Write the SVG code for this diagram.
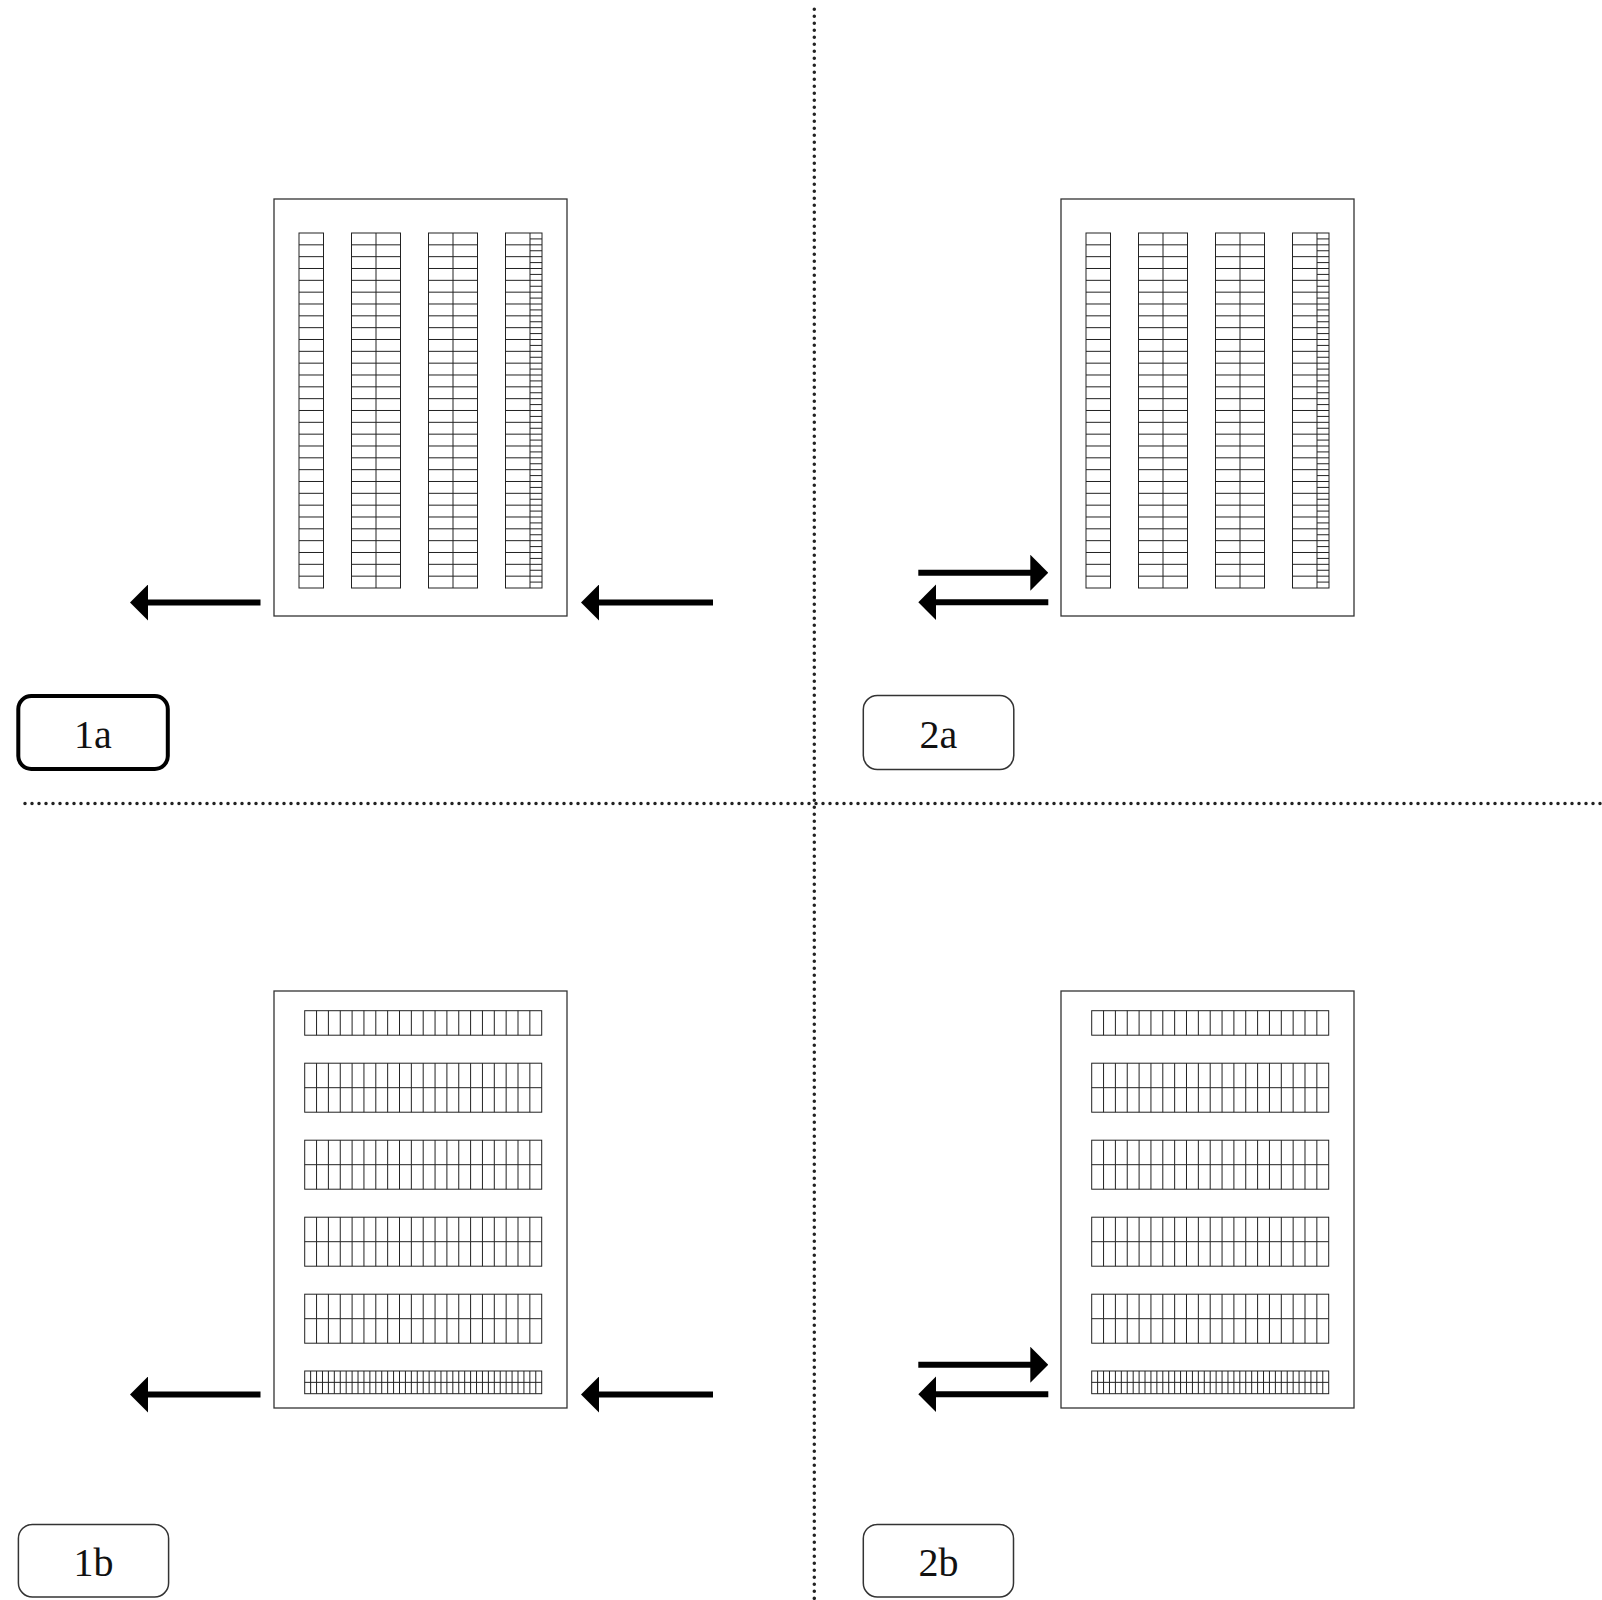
<svg xmlns="http://www.w3.org/2000/svg" xmlns:xlink="http://www.w3.org/1999/xlink" width="1602" height="1600" viewBox="0 0 1602 1600">
<style>
.frame{fill:#fff;stroke:#333;stroke-width:1.3}
.blk{fill:none;stroke:#222;stroke-width:1}
.ln{fill:none;stroke:#222;stroke-width:1}
.arrow{stroke:#000;stroke-width:6;fill:none}
.dots{stroke:#222;stroke-width:3.5;stroke-linecap:round;stroke-dasharray:0 7;fill:none}
.lbl{fill:#fff;stroke:#333;stroke-width:1.5}
.lbl.sel{stroke:#000;stroke-width:4}
.txt{font-family:"Liberation Serif","DejaVu Serif",serif;font-size:40px;fill:#111;text-anchor:middle}
</style>
<defs>
<marker id="head" markerUnits="userSpaceOnUse" markerWidth="18" markerHeight="36" viewBox="0 0 18 36" refX="2" refY="18" orient="auto">
<path d="M0,0L18,18L0,36Z" fill="#000"/>
</marker>
<path id="h24" class="ln" d="M0,11.833h24.5m-24.5,11.833h24.5m-24.5,11.833h24.5m-24.5,11.833h24.5m-24.5,11.833h24.5m-24.5,11.833h24.5m-24.5,11.833h24.5m-24.5,11.833h24.5m-24.5,11.833h24.5m-24.5,11.833h24.5m-24.5,11.833h24.5m-24.5,11.833h24.5m-24.5,11.833h24.5m-24.5,11.833h24.5m-24.5,11.833h24.5m-24.5,11.833h24.5m-24.5,11.833h24.5m-24.5,11.833h24.5m-24.5,11.833h24.5m-24.5,11.833h24.5m-24.5,11.833h24.5m-24.5,11.833h24.5m-24.5,11.833h24.5m-24.5,11.833h24.5m-24.5,11.833h24.5m-24.5,11.833h24.5m-24.5,11.833h24.5m-24.5,11.833h24.5m-24.5,11.833h24.5"/>
<path id="h12" class="ln" d="M0,5.9167h12m-12,5.9167h12m-12,5.9167h12m-12,5.9167h12m-12,5.9167h12m-12,5.9167h12m-12,5.9167h12m-12,5.9167h12m-12,5.9167h12m-12,5.9167h12m-12,5.9167h12m-12,5.9167h12m-12,5.9167h12m-12,5.9167h12m-12,5.9167h12m-12,5.9167h12m-12,5.9167h12m-12,5.9167h12m-12,5.9167h12m-12,5.9167h12m-12,5.9167h12m-12,5.9167h12m-12,5.9167h12m-12,5.9167h12m-12,5.9167h12m-12,5.9167h12m-12,5.9167h12m-12,5.9167h12m-12,5.9167h12m-12,5.9167h12m-12,5.9167h12m-12,5.9167h12m-12,5.9167h12m-12,5.9167h12m-12,5.9167h12m-12,5.9167h12m-12,5.9167h12m-12,5.9167h12m-12,5.9167h12m-12,5.9167h12m-12,5.9167h12m-12,5.9167h12m-12,5.9167h12m-12,5.9167h12m-12,5.9167h12m-12,5.9167h12m-12,5.9167h12m-12,5.9167h12m-12,5.9167h12m-12,5.9167h12m-12,5.9167h12m-12,5.9167h12m-12,5.9167h12m-12,5.9167h12m-12,5.9167h12m-12,5.9167h12m-12,5.9167h12m-12,5.9167h12m-12,5.9167h12"/>
<path id="v20" class="ln" d="M11.85,0v24.5m11.85,-24.5v24.5m11.85,-24.5v24.5m11.85,-24.5v24.5m11.85,-24.5v24.5m11.85,-24.5v24.5m11.85,-24.5v24.5m11.85,-24.5v24.5m11.85,-24.5v24.5m11.85,-24.5v24.5m11.85,-24.5v24.5m11.85,-24.5v24.5m11.85,-24.5v24.5m11.85,-24.5v24.5m11.85,-24.5v24.5m11.85,-24.5v24.5m11.85,-24.5v24.5m11.85,-24.5v24.5m11.85,-24.5v24.5"/>
<path id="v40" class="ln" d="M5.925,0v22.7m5.925,-22.7v22.7m5.925,-22.7v22.7m5.925,-22.7v22.7m5.925,-22.7v22.7m5.925,-22.7v22.7m5.925,-22.7v22.7m5.925,-22.7v22.7m5.925,-22.7v22.7m5.925,-22.7v22.7m5.925,-22.7v22.7m5.925,-22.7v22.7m5.925,-22.7v22.7m5.925,-22.7v22.7m5.925,-22.7v22.7m5.925,-22.7v22.7m5.925,-22.7v22.7m5.925,-22.7v22.7m5.925,-22.7v22.7m5.925,-22.7v22.7m5.925,-22.7v22.7m5.925,-22.7v22.7m5.925,-22.7v22.7m5.925,-22.7v22.7m5.925,-22.7v22.7m5.925,-22.7v22.7m5.925,-22.7v22.7m5.925,-22.7v22.7m5.925,-22.7v22.7m5.925,-22.7v22.7m5.925,-22.7v22.7m5.925,-22.7v22.7m5.925,-22.7v22.7m5.925,-22.7v22.7m5.925,-22.7v22.7m5.925,-22.7v22.7m5.925,-22.7v22.7m5.925,-22.7v22.7m5.925,-22.7v22.7"/>
<g id="panelA">
<rect class="frame" width="293" height="417"/>
<rect class="blk" x="25" y="34" width="24.5" height="355"/>
<rect class="blk" x="77.5" y="34" width="49" height="355"/>
<rect class="blk" x="154.5" y="34" width="49" height="355"/>
<rect class="blk" x="231.5" y="34" width="36.5" height="355"/>
<path class="ln" d="M102,34v355M179,34v355M256,34v355"/>
<use href="#h24" x="25" y="34"/>
<use href="#h24" x="77.5" y="34"/>
<use href="#h24" x="102" y="34"/>
<use href="#h24" x="154.5" y="34"/>
<use href="#h24" x="179" y="34"/>
<use href="#h24" x="231.5" y="34"/>
<use href="#h12" x="256" y="34"/>
</g>
<g id="panelB">
<rect class="frame" width="293" height="417"/>
<rect class="blk" x="30.7" y="19.7" width="237" height="24.5"/>
<rect class="blk" x="30.7" y="72.2" width="237" height="49"/>
<rect class="blk" x="30.7" y="149.2" width="237" height="49"/>
<rect class="blk" x="30.7" y="226.2" width="237" height="49"/>
<rect class="blk" x="30.7" y="303.2" width="237" height="49"/>
<rect class="blk" x="30.7" y="380" width="237" height="22.7"/>
<path class="ln" d="M30.7,96.7h237M30.7,173.7h237M30.7,250.7h237M30.7,327.7h237M30.7,391.35h237"/>
<use href="#v20" x="30.7" y="19.7"/>
<use href="#v20" x="30.7" y="72.2"/>
<use href="#v20" x="30.7" y="96.7"/>
<use href="#v20" x="30.7" y="149.2"/>
<use href="#v20" x="30.7" y="173.7"/>
<use href="#v20" x="30.7" y="226.2"/>
<use href="#v20" x="30.7" y="250.7"/>
<use href="#v20" x="30.7" y="303.2"/>
<use href="#v20" x="30.7" y="327.7"/>
<use href="#v40" x="30.7" y="380"/>
</g>
</defs>
<rect width="1602" height="1600" fill="#fff"/>
<g id="dividers">
<line class="dots" x1="814.3" y1="9.3" x2="814.3" y2="1600"/>
<line class="dots" x1="25" y1="803.5" x2="1602" y2="803.5"/>
</g>
<g id="panel-1a" transform="translate(274,199)"><use href="#panelA"/></g>
<g id="panel-2a" transform="translate(1061,199)"><use href="#panelA"/></g>
<g id="panel-1b" transform="translate(274,991)"><use href="#panelB"/></g>
<g id="panel-2b" transform="translate(1061,991)"><use href="#panelB"/></g>
<g id="connectors">
<line class="arrow" x1="260.5" y1="602.5" x2="146" y2="602.5" marker-end="url(#head)"/>
<line class="arrow" x1="713" y1="602.5" x2="597" y2="602.5" marker-end="url(#head)"/>
<line class="arrow" x1="260.5" y1="1394.5" x2="146" y2="1394.5" marker-end="url(#head)"/>
<line class="arrow" x1="713" y1="1394.5" x2="597" y2="1394.5" marker-end="url(#head)"/>
<line class="arrow" x1="918.3" y1="572.7" x2="1032.3" y2="572.7" marker-end="url(#head)"/>
<line class="arrow" x1="1048.3" y1="602.3" x2="934.3" y2="602.3" marker-end="url(#head)"/>
<line class="arrow" x1="918.3" y1="1364.7" x2="1032.3" y2="1364.7" marker-end="url(#head)"/>
<line class="arrow" x1="1048.3" y1="1394.3" x2="934.3" y2="1394.3" marker-end="url(#head)"/>
</g>
<g id="label-1a"><rect class="lbl sel" x="18.3" y="696" width="149.5" height="73" rx="13"/><text class="txt" x="93" y="748">1a</text></g>
<g id="label-2a"><rect class="lbl" x="863.3" y="695.5" width="150.5" height="74" rx="14"/><text class="txt" x="938.5" y="748">2a</text></g>
<g id="label-1b"><rect class="lbl" x="18.4" y="1524.4" width="150.2" height="72.6" rx="14"/><text class="txt" x="93.5" y="1576">1b</text></g>
<g id="label-2b"><rect class="lbl" x="863.3" y="1524.4" width="150.2" height="72.6" rx="14"/><text class="txt" x="938.4" y="1576">2b</text></g>
</svg>
